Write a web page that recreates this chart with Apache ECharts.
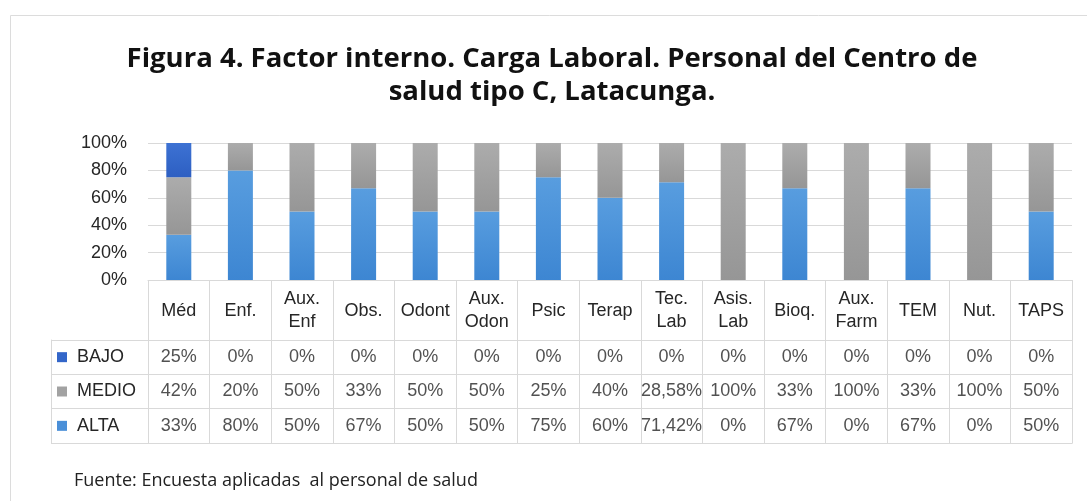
<!DOCTYPE html>
<html>
<head>
<meta charset="utf-8">
<script src="https://cdn.jsdelivr.net/npm/echarts@6/dist/echarts.min.js"></script>
<style>
  html, body { margin: 0; padding: 0; background: #fff; }
  #main { width: 1087px; height: 501px; }
</style>
</head>
<body>
<div id="main"></div>
<script>
// categorias (cargos del personal)
const categories = ['Méd', 'Enf.', 'Aux.\nEnf', 'Obs.', 'Odont', 'Aux.\nOdon', 'Psic', 'Terap',
  'Tec.\nLab', 'Asis.\nLab', 'Bioq.', 'Aux.\nFarm', 'TEM', 'Nut.', 'TAPS']

// porcentajes por nivel de carga laboral
const bajo = [25, 0, 0, 0, 0, 0, 0, 0, 0, 0, 0, 0, 0, 0, 0]
const medio = [42, 20, 50, 33, 50, 50, 25, 40, 28.58, 100, 33, 100, 33, 100, 50]
const alta = [33, 80, 50, 67, 50, 50, 75, 60, 71.42, 0, 67, 0, 67, 0, 50]

const rowNames = ['BAJO', 'MEDIO', 'ALTA']
const yTicks = [0, 20, 40, 60, 80, 100]

const colors = { BAJO: '#3366c9', MEDIO: '#a2a2a2', ALTA: '#4a8fd8' }
const lineColor = '#d9d9d9'
const txt = '#262626'
const tableFont = 'Liberation Sans'

const grad = (top, bottom) => new echarts.graphic.LinearGradient(0, 0, 0, 1, [
  { offset: 0, color: top }, { offset: 1, color: bottom },
])

const pct = (v) => String(v).replace('.', ',') + '%'

// celdas de la tabla de datos
const rows = [bajo, medio, alta]
const cells = []
rows.forEach((arr, r) => {
  arr.forEach((v, c) => cells.push([c, r, v]))
})

const chart = echarts.init(document.getElementById('main'), null, { renderer: 'canvas' })

chart.setOption({
  animation: false,
  backgroundColor: '#fff',
  textStyle: { fontFamily: tableFont },
  graphic: [
    {
      type: 'rect',
      silent: true,
      shape: { x: 10.5, y: 15.5, width: 1200, height: 600 },
      style: { fill: 'none', stroke: '#dcdcdc', lineWidth: 1 },
    },
    {
      type: 'text',
      x: 552, y: 76,
      style: {
        text: 'Figura 4. Factor interno. Carga Laboral. Personal del Centro de\nsalud tipo C, Latacunga.',
        font: 'bold 27.5px "Open Sans"',
        fill: '#111',
        align: 'center', verticalAlign: 'middle',
        textAlign: 'center', textVerticalAlign: 'middle',
        lineHeight: 33,
      },
    },
    {
      type: 'text',
      x: 74, y: 481,
      style: {
        text: 'Fuente: Encuesta aplicadas  al personal de salud',
        font: '18px "Open Sans"',
        fill: '#222',
        verticalAlign: 'middle', textVerticalAlign: 'middle',
      },
    },
  ],
  grid: [
    { left: 148, right: 15, top: 143, height: 137 },
    { left: 148, right: 15, top: 340, height: 103 },
  ],
  xAxis: [
    {
      type: 'category', gridIndex: 0, data: categories,
      axisLine: { lineStyle: { color: lineColor } },
      axisTick: { show: true, length: 60, lineStyle: { color: lineColor } },
      axisLabel: {
        interval: 0, margin: 31, color: txt, fontSize: 18, lineHeight: 23,
        verticalAlign: 'middle', fontFamily: tableFont,
      },
    },
    {
      type: 'category', gridIndex: 1, data: categories, position: 'bottom',
      axisLine: { lineStyle: { color: lineColor } },
      axisTick: { show: false }, axisLabel: { show: false },
      splitLine: { show: true, interval: 0, lineStyle: { color: lineColor } },
    },
    {
      type: 'category', gridIndex: 1, data: categories, position: 'top',
      axisLine: { lineStyle: { color: lineColor } },
      axisTick: { show: false }, axisLabel: { show: false },
    },
  ],
  yAxis: [
    {
      type: 'value', gridIndex: 0, min: 0, max: 100, interval: 20,
      axisLine: { show: false }, axisTick: { show: false },
      splitLine: { lineStyle: { color: lineColor } },
      axisLabel: {
        margin: 21, color: txt, fontSize: 18, fontFamily: tableFont,
        formatter: (v) => (yTicks.includes(v) ? v + '%' : ''),
      },
    },
    {
      type: 'category', gridIndex: 1, data: rowNames, inverse: true,
      axisLine: { lineStyle: { color: lineColor } },
      axisTick: { show: true, length: 97, lineStyle: { color: lineColor } },
      splitLine: { show: true, lineStyle: { color: lineColor } },
      axisLabel: {
        align: 'left', margin: 91, color: txt, fontSize: 18, fontFamily: tableFont,
        formatter: (v) => '{' + v + '|}  ' + v,
        rich: {
          BAJO: { width: 10, height: 10, backgroundColor: colors.BAJO },
          MEDIO: { width: 10, height: 10, backgroundColor: colors.MEDIO },
          ALTA: { width: 10, height: 10, backgroundColor: colors.ALTA },
        },
      },
    },
    {
      type: 'category', gridIndex: 1, data: rowNames, position: 'left', offset: 97,
      axisLine: { lineStyle: { color: lineColor } },
      axisTick: { show: false }, axisLabel: { show: false },
    },
    {
      type: 'category', gridIndex: 1, data: rowNames, position: 'right',
      axisLine: { lineStyle: { color: lineColor } },
      axisTick: { show: false }, axisLabel: { show: false },
    },
  ],
  series: [
    {
      name: 'ALTA', type: 'bar', stack: 'carga', barWidth: 25, data: alta,
      xAxisIndex: 0, yAxisIndex: 0,
      itemStyle: { color: grad('#589ddf', '#3d86d2') },
    },
    {
      name: 'MEDIO', type: 'bar', stack: 'carga', barWidth: 25, data: medio,
      xAxisIndex: 0, yAxisIndex: 0,
      itemStyle: { color: grad('#acacac', '#969696') },
    },
    {
      name: 'BAJO', type: 'bar', stack: 'carga', barWidth: 25, data: bajo,
      xAxisIndex: 0, yAxisIndex: 0,
      itemStyle: { color: grad('#3d72d3', '#2d5fc2') },
    },
    {
      name: 'tabla', type: 'scatter', xAxisIndex: 1, yAxisIndex: 1,
      symbol: 'rect', symbolSize: 1, silent: true,
      itemStyle: { color: 'rgba(0,0,0,0)' },
      data: cells,
      label: {
        show: true, position: 'inside', color: txt, fontSize: 18, fontFamily: tableFont,
        formatter: (p) => pct(p.value[2]),
      },
    },
  ],
})
</script>
</body>
</html>
